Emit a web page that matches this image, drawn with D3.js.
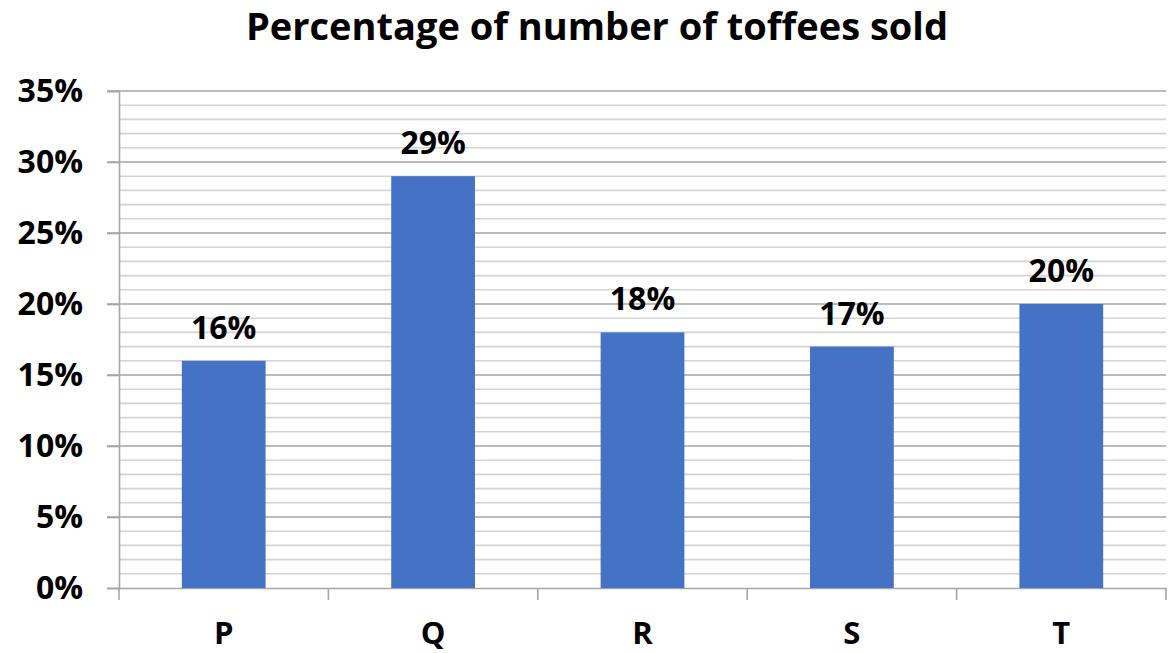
<!DOCTYPE html>
<html><head><meta charset="utf-8">
<script src="https://cdn.jsdelivr.net/npm/d3@7"></script>
<style>body{margin:0;background:#fff;} text{font-family:"Open Sans",sans-serif;font-weight:bold;fill:#000;}</style>
</head><body>
<svg id="c" width="1171" height="653"></svg>
<script>
const title = "Percentage of number of toffees sold";
const categories = ["P","Q","R","S","T"];
const values = [16,29,18,17,20];
const yTicks = [0,5,10,15,20,25,30,35];

const svg = d3.select("#c");
const m = {l:119, r:1166, t:91, b:588};
const x = d3.scaleBand().domain(categories).range([m.l, m.r]).paddingInner(0.6).paddingOuter(0.3);
const xb = d3.scaleBand().domain(categories).range([m.l, m.r]);
const y = d3.scaleLinear().domain([0,35]).range([m.b, m.t]);

// minor gridlines
const minor = d3.range(0,36).filter(v => v % 5 !== 0);
svg.append("g").selectAll("line").data(minor).join("line")
  .attr("x1", m.l).attr("x2", m.r).attr("y1", d=>y(d)).attr("y2", d=>y(d))
  .attr("stroke", "#d4d4d4").attr("stroke-width", 1.6);
// major gridlines
svg.append("g").selectAll("line").data(yTicks.filter(d=>d>0)).join("line")
  .attr("x1", m.l-12).attr("x2", m.r).attr("y1", d=>y(d)).attr("y2", d=>y(d))
  .attr("stroke", "#a6a6a6").attr("stroke-width", 1.6);

// y axis
const ya = svg.append("g").attr("transform", `translate(${m.l},0)`)
  .call(d3.axisLeft(y).tickValues(yTicks).tickSize(12).tickFormat(d => d + "%"));
ya.select(".domain").attr("stroke", "#a6a6a6").attr("stroke-width", 1.6);
ya.selectAll(".tick line").attr("stroke", "#a6a6a6").attr("stroke-width", 1.6);
ya.selectAll(".tick text").attr("x", -36).attr("font-size", 32).attr("font-family", "Open Sans").attr("font-weight", "bold").attr("fill", "#000");

// x axis
const xa = svg.append("g").attr("transform", `translate(0,${m.b})`)
  .call(d3.axisBottom(xb).tickSize(0).tickSizeOuter(0));
xa.select(".domain").attr("stroke", "#a6a6a6").attr("stroke-width", 1.6);
xa.selectAll(".tick text").attr("y", 56).attr("dy", 0).attr("font-size", 31).attr("font-family", "Open Sans").attr("font-weight", "bold").attr("fill", "#000");
const bounds = categories.map(c => xb(c)).concat([m.r]);
svg.append("g").selectAll("line").data(bounds).join("line")
  .attr("x1", d=>d).attr("x2", d=>d).attr("y1", m.b).attr("y2", m.b+12)
  .attr("stroke", "#a6a6a6").attr("stroke-width", 1.6);

// bars
svg.append("g").selectAll("rect").data(categories).join("rect")
  .attr("x", d => x(d)).attr("width", x.bandwidth())
  .attr("y", (d,i) => y(values[i])).attr("height", (d,i) => m.b - y(values[i]))
  .attr("fill", "#4472C4");

// value labels
svg.append("g").selectAll("text").data(categories).join("text")
  .attr("x", d => x(d) + x.bandwidth()/2).attr("y", (d,i) => y(values[i]) - 22)
  .attr("text-anchor", "middle").attr("font-size", 32)
  .text((d,i) => values[i] + "%");

svg.append("text").attr("x", 597).attr("y", 40).attr("text-anchor", "middle")
  .attr("font-size", 38).text(title);
</script>
</body></html>
